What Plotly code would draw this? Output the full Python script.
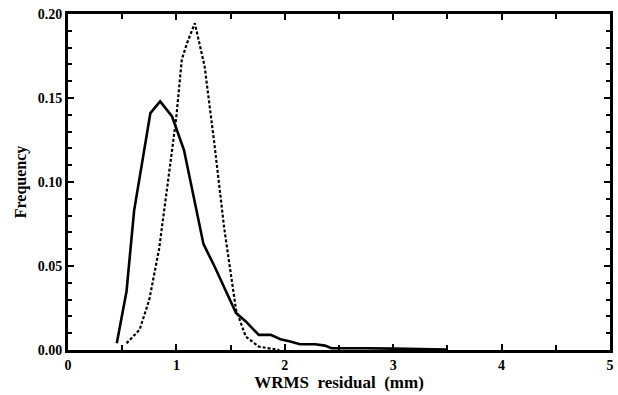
import plotly.graph_objects as go

# Solid curve
solid_x = [0.45, 0.54, 0.61, 0.66, 0.76, 0.85, 0.96, 1.07, 1.16, 1.25, 1.35, 1.46, 1.55, 1.64, 1.76, 1.87,
           1.96, 2.05, 2.14, 2.28, 2.37, 2.43, 2.6, 2.75, 3.0, 3.2, 3.5]
solid_y = [0.004, 0.035, 0.083, 0.103, 0.141, 0.148, 0.139, 0.119, 0.092, 0.063, 0.050, 0.034, 0.022, 0.017,
           0.009, 0.009, 0.0064, 0.005, 0.0034, 0.0034, 0.0026, 0.001, 0.0008, 0.001, 0.0008, 0.0005, 0.0003]

# Dotted curve
dot_x = [0.54, 0.66, 0.75, 0.84, 0.94, 1.0, 1.05, 1.10, 1.17, 1.26, 1.35, 1.44, 1.55, 1.64, 1.76, 1.88, 1.95]
dot_y = [0.004, 0.012, 0.030, 0.060, 0.109, 0.139, 0.173, 0.183, 0.1945, 0.169, 0.123, 0.073, 0.024, 0.008,
         0.002, 0.001, 0.0]

fig = go.Figure()
fig.add_trace(go.Scatter(x=dot_x, y=dot_y, mode="lines",
                         line=dict(color="black", width=2.2, dash="3px,2px")))
fig.add_trace(go.Scatter(x=solid_x, y=solid_y, mode="lines",
                         line=dict(color="black", width=2.6)))

font_family = "Liberation Serif"
fig.update_layout(
    width=618, height=395,
    margin=dict(l=68, r=4, t=14, b=45),
    paper_bgcolor="white", plot_bgcolor="white",
    showlegend=False,
    font=dict(family=font_family, color="black"),
)
fig.update_xaxes(
    range=[0, 5], tickmode="array", tickvals=[0, 1, 2, 3, 4, 5],
    ticktext=["<b>0</b>", "<b>1</b>", "<b>2</b>", "<b>3</b>", "<b>4</b>", "<b>5</b>"],
    ticks="inside", ticklen=6, tickwidth=2, tickcolor="black",
    minor=dict(dtick=0.5, ticks="inside", ticklen=5, tickwidth=2, tickcolor="black"),
    showline=True, linewidth=3, linecolor="black", mirror="ticks",
    showgrid=False, zeroline=False,
    tickfont=dict(size=14, family=font_family),
    title=dict(text="<b>WRMS  residual  (mm)</b>", font=dict(size=17, family=font_family), standoff=5),
)
fig.update_yaxes(
    range=[0, 0.20], tickmode="array", tickvals=[0, 0.05, 0.10, 0.15, 0.20],
    ticktext=["<b>0.00</b>", "<b>0.05</b>", "<b>0.10</b>", "<b>0.15</b>", "<b>0.20</b>"],
    ticks="inside", ticklen=6, tickwidth=2, tickcolor="black",
    minor=dict(dtick=0.01, ticks="inside", ticklen=4, tickwidth=2, tickcolor="black"),
    showline=True, linewidth=3, linecolor="black", mirror="ticks",
    showgrid=False, zeroline=False,
    tickfont=dict(size=14, family=font_family),
    title=dict(text="<b>Frequency</b>", font=dict(size=16, family=font_family), standoff=8),
)
fig.write_html("out.html")
